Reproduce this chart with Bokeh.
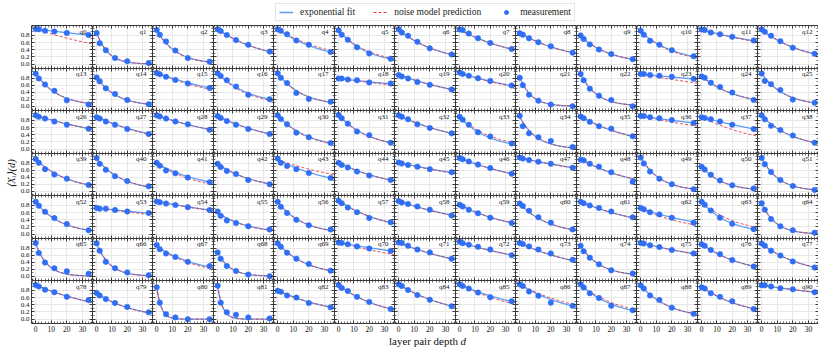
import numpy as np
from bokeh.plotting import figure
from bokeh.layouts import gridplot, column, row
from bokeh.models import (ColumnDataSource, Range1d, FixedTicker, LinearAxis, Grid, Label,
                          Legend, LegendItem, Whisker, TeeHead, PrintfTickFormatter,
                          CustomJSTickFormatter)
from bokeh.embed import file_html
from bokeh.resources import INLINE

# ---------------- data ----------------
depths = [0, 2, 6, 12, 20, 34]
meas_err = [0.02, 0.02, 0.02, 0.02, 0.02, 0.02]
x_ticks = [0, 10, 20, 30]
y_ticks = [0.0, 0.2, 0.4, 0.6, 0.8]
qubit_labels = ["q%d" % k for k in range(91)]
legend_labels = ["exponential fit", "noise model prediction", "measurement"]
x_title = "layer pair depth"
x_title_var = "d"
y_title = "\u27e8X\u1d62\u27e9(d)"

meas_row1 = [
    [0.98, 0.97, 0.93, 0.91, 0.87, 0.81], [0.87, 0.58, 0.39, 0.17, 0.08, 0.03],
    [0.95, 0.82, 0.63, 0.38, 0.17, 0.07], [0.97, 0.92, 0.81, 0.67, 0.54, 0.35],
    [0.97, 0.93, 0.83, 0.66, 0.54, 0.34], [0.94, 0.82, 0.68, 0.47, 0.30, 0.15],
    [0.97, 0.88, 0.79, 0.62, 0.44, 0.27], [0.965, 0.95, 0.85, 0.72, 0.59, 0.42],
    [0.86, 0.82, 0.72, 0.61, 0.50, 0.32], [0.80, 0.70, 0.55, 0.41, 0.28, 0.14],
    [0.93, 0.82, 0.65, 0.54, 0.39, 0.22], [0.965, 0.95, 0.88, 0.83, 0.76, 0.66],
    [0.965, 0.90, 0.79, 0.64, 0.46, 0.29]]
meas_row2 = [
    [0.93, 0.79, 0.62, 0.44, 0.17, 0.05], [0.82, 0.71, 0.51, 0.35, 0.18, 0.06],
    [0.95, 0.91, 0.84, 0.75, 0.65, 0.52], [0.94, 0.86, 0.74, 0.56, 0.33, 0.20],
    [0.94, 0.81, 0.66, 0.38, 0.21, 0.13], [0.79, 0.79, 0.76, 0.74, 0.68, 0.65],
    [0.89, 0.85, 0.79, 0.69, 0.61, 0.48], [0.96, 0.92, 0.87, 0.80, 0.72, 0.59],
    [0.81, 0.60, 0.33, 0.16, 0.05, 0.00], [0.92, 0.74, 0.50, 0.30, 0.18, 0.00],
    [0.92, 0.92, 0.89, 0.87, 0.84, 0.78], [0.85, 0.81, 0.67, 0.55, 0.39, 0.18],
    [0.93, 0.72, 0.63, 0.46, 0.19, 0.10]]
meas_row3 = [
    [0.94, 0.90, 0.85, 0.77, 0.68, 0.57], [0.89, 0.85, 0.77, 0.68, 0.56, 0.42],
    [0.94, 0.91, 0.85, 0.77, 0.69, 0.54], [0.92, 0.87, 0.78, 0.68, 0.56, 0.42],
    [0.94, 0.84, 0.69, 0.46, 0.33, 0.17], [0.95, 0.86, 0.71, 0.49, 0.39, 0.18],
    [0.94, 0.90, 0.83, 0.69, 0.59, 0.44], [0.90, 0.82, 0.68, 0.47, 0.35, 0.16],
    [0.93, 0.64, 0.44, 0.33, 0.23, 0.06], [0.91, 0.86, 0.76, 0.64, 0.57, 0.36],
    [0.92, 0.92, 0.89, 0.86, 0.81, 0.73], [0.89, 0.87, 0.83, 0.77, 0.68, 0.56],
    [0.94, 0.83, 0.65, 0.53, 0.38, 0.18]]
meas_row4 = [
    [0.92, 0.81, 0.63, 0.48, 0.36, 0.18], [0.95, 0.78, 0.61, 0.43, 0.29, 0.14],
    [0.81, 0.73, 0.59, 0.51, 0.39, 0.26], [0.78, 0.69, 0.58, 0.49, 0.32, 0.20],
    [0.93, 0.81, 0.72, 0.63, 0.52, 0.38], [0.81, 0.75, 0.68, 0.56, 0.45, 0.32],
    [0.82, 0.79, 0.75, 0.70, 0.63, 0.54], [0.95, 0.91, 0.85, 0.76, 0.66, 0.50],
    [0.96, 0.93, 0.89, 0.84, 0.78, 0.67], [0.90, 0.88, 0.78, 0.70, 0.54, 0.27],
    [0.96, 0.79, 0.56, 0.36, 0.20, 0.06], [0.70, 0.62, 0.47, 0.31, 0.17, 0.08],
    [0.95, 0.77, 0.55, 0.32, 0.15, 0.04]]
meas_row5 = [
    [0.90, 0.79, 0.62, 0.45, 0.28, 0.11], [0.73, 0.71, 0.71, 0.67, 0.63, 0.59],
    [0.91, 0.89, 0.85, 0.81, 0.75, 0.67], [0.63, 0.51, 0.38, 0.31, 0.22, 0.13],
    [0.90, 0.76, 0.59, 0.40, 0.25, 0.13], [0.93, 0.86, 0.74, 0.61, 0.45, 0.33],
    [0.92, 0.88, 0.84, 0.77, 0.68, 0.52], [0.82, 0.77, 0.68, 0.58, 0.46, 0.31],
    [0.85, 0.78, 0.65, 0.47, 0.32, 0.13], [0.90, 0.86, 0.80, 0.73, 0.63, 0.47],
    [0.73, 0.69, 0.61, 0.55, 0.46, 0.32], [0.90, 0.82, 0.66, 0.46, 0.29, 0.14],
    [0.86, 0.68, 0.42, 0.22, 0.11, 0.04]]
meas_row6 = [
    [0.95, 0.66, 0.39, 0.23, 0.14, 0.07], [0.94, 0.73, 0.41, 0.23, 0.11, 0.03],
    [0.89, 0.77, 0.65, 0.55, 0.41, 0.29], [0.68, 0.50, 0.29, 0.15, 0.05, 0.00],
    [0.94, 0.84, 0.67, 0.50, 0.35, 0.16], [0.96, 0.95, 0.91, 0.85, 0.79, 0.72],
    [0.96, 0.95, 0.87, 0.76, 0.68, 0.50], [0.98, 0.94, 0.90, 0.84, 0.76, 0.60],
    [0.95, 0.92, 0.85, 0.76, 0.65, 0.47], [0.87, 0.71, 0.53, 0.34, 0.17, 0.08],
    [0.95, 0.93, 0.88, 0.83, 0.75, 0.65], [0.91, 0.87, 0.75, 0.63, 0.46, 0.28],
    [0.93, 0.87, 0.73, 0.59, 0.42, 0.25]]
meas_row7 = [
    [0.95, 0.91, 0.82, 0.75, 0.62, 0.53], [0.73, 0.66, 0.56, 0.45, 0.34, 0.19],
    [0.89, 0.46, 0.14, 0.05, 0.00, 0.00], [0.93, 0.46, 0.19, 0.12, 0.05, 0.02],
    [0.79, 0.76, 0.66, 0.60, 0.45, 0.33], [0.95, 0.87, 0.78, 0.62, 0.48, 0.28],
    [0.97, 0.92, 0.81, 0.67, 0.54, 0.36], [0.97, 0.92, 0.85, 0.74, 0.61, 0.50],
    [0.97, 0.92, 0.77, 0.65, 0.46, 0.37], [0.97, 0.88, 0.72, 0.59, 0.37, 0.25],
    [0.94, 0.85, 0.66, 0.53, 0.32, 0.15], [0.89, 0.85, 0.72, 0.62, 0.50, 0.28],
    [0.94, 0.94, 0.91, 0.86, 0.83, 0.75]]
meas_rows = [meas_row1, meas_row2, meas_row3, meas_row4, meas_row5, meas_row6, meas_row7]

# exponential fit amplitude / decay depth, and decay depth of noise-model prediction
fit_amp = [0.98, 0.88, 0.95, 0.97, 0.97, 0.94, 0.96, 0.96, 0.87, 0.78, 0.90, 0.95, 0.96,
           0.95, 0.83, 0.95, 0.94, 0.94, 0.79, 0.90, 0.95, 0.83, 0.92, 0.92, 0.86, 0.93,
           0.94, 0.90, 0.94, 0.92, 0.94, 0.95, 0.94, 0.90, 0.90, 0.91, 0.92, 0.90, 0.93,
           0.92, 0.93, 0.80, 0.78, 0.90, 0.82, 0.82, 0.95, 0.95, 0.92, 0.96, 0.70, 0.95,
           0.90, 0.73, 0.91, 0.60, 0.90, 0.93, 0.92, 0.82, 0.86, 0.90, 0.72, 0.90, 0.86,
           0.93, 0.94, 0.85, 0.68, 0.94, 0.96, 0.96, 0.97, 0.95, 0.87, 0.95, 0.92, 0.93,
           0.95, 0.73, 0.89, 0.93, 0.80, 0.95, 0.97, 0.97, 0.97, 0.95, 0.94, 0.90, 0.94]
fit_tau = [177, 7.5, 12.5, 33, 32, 18.5, 26.6, 41, 34, 19.5, 23.6, 89, 28,
           14, 13, 57, 22, 16, 160, 54, 70, 7.5, 10.5, 200, 23, 15,
           69, 46, 63, 44, 20, 20.5, 45, 19, 11, 36.5, 147, 73, 21,
           21, 17, 31, 26, 39, 36, 80, 53, 100, 36, 12.7, 14, 11,
           16.2, 150, 112, 21, 16, 32, 62, 36, 18, 50, 46, 18.3, 9,
           7.5, 8.5, 29, 8, 19.2, 120, 52, 72, 45, 12.8, 87, 29, 26.5,
           51, 24.7, 3, 3.3, 39, 28.5, 35, 50, 35, 24.6, 18.9, 30, 150]
pred_tau = [66, 7.5, 12, 33, 36, 20, 26.6, 41, 34, 19.5, 22, 85, 28,
            14, 13, 50, 20, 16, 130, 54, 66, 7.5, 10.5, 108, 23, 15,
            69, 44, 63, 44, 19, 20.5, 45, 22, 11, 36.5, 100, 40, 21,
            21, 17, 26, 26, 56, 36, 75, 53, 95, 36, 12.7, 14, 11,
            16.2, 120, 105, 20, 16, 32, 60, 36, 18, 50, 34, 23, 9,
            7.5, 8.5, 26, 8, 19.2, 82, 52, 72, 45, 12.8, 87, 29, 26.5,
            51, 24, 3, 3.3, 39, 28.5, 35, 43, 40, 28, 18.9, 30, 150]

# ---------------- style ----------------
FONT = "serif"
AX = "#3a3a3a"
FIT_C = "#5b9cf6"
PRED_C = "#e5323b"
MEAS_C = "#2f6ff5"
GRID_C = "#e2e2e2"
NCOL, NROW = 13, 7
col_w = [61 if j % 2 == 0 else 60 for j in range(NCOL)]
row_h = [43 if i % 2 == 0 else 42 for i in range(NROW)]
LEFT_B = 14
BOTTOM_B = 11
YLAB_W = 17
LEG_H = 25
XLAB_H = 14
Y_LO, Y_HI = -0.12, 1.075

d_fine = np.linspace(0, 37, 90)
xt = FixedTicker(ticks=x_ticks, minor_ticks=list(range(-2, 37, 2)))
yt = FixedTicker(ticks=y_ticks, minor_ticks=[round(-0.1 + 0.1 * k, 2) for k in range(12)])
blank_fmt = CustomJSTickFormatter(code="return ''")


def make_axis(ticker, labels, fmt=None, size="7.5px"):
    return LinearAxis(ticker=ticker, axis_line_color=AX, axis_line_width=1.0,
                      major_tick_in=3, major_tick_out=0, minor_tick_in=2, minor_tick_out=0,
                      major_tick_line_color=AX, minor_tick_line_color=AX,
                      minor_tick_line_width=0.7,
                      major_label_standoff=2 if labels else 0,
                      major_label_text_font=FONT,
                      major_label_text_font_size=size if labels else "0px",
                      major_label_text_color="#111111",
                      formatter=fmt if labels else blank_fmt)


panels = []
for i in range(NROW):
    prow = []
    for j in range(NCOL):
        k = i * NCOL + j
        p = figure(frame_width=col_w[j], frame_height=row_h[i],
                   x_range=Range1d(-2.7, 36.5), y_range=Range1d(Y_LO, Y_HI),
                   x_axis_type=None, y_axis_type=None,
                   output_backend="svg", toolbar_location=None,
                   min_border_left=LEFT_B if j == 0 else 0, min_border_right=0,
                   min_border_top=0, min_border_bottom=BOTTOM_B if i == NROW - 1 else 0,
                   outline_line_color=None, background_fill_color="white",
                   border_fill_color="white")
        p.add_layout(Grid(dimension=0, ticker=xt, grid_line_color=GRID_C, grid_line_width=0.8))
        p.add_layout(Grid(dimension=1, ticker=yt, grid_line_color=GRID_C, grid_line_width=0.8))
        p.add_layout(make_axis(yt, j == 0, PrintfTickFormatter(format="%.1f"), "7px"), "left")
        p.add_layout(make_axis(yt, False), "right")
        p.add_layout(make_axis(xt, i == NROW - 1, PrintfTickFormatter(format="%d")), "below")
        p.add_layout(make_axis(xt, False), "above")

        amp, tau, ptau = fit_amp[k], fit_tau[k], pred_tau[k]
        p.line(d_fine, amp * np.exp(-d_fine / tau), line_color=FIT_C, line_width=1.3)
        p.line(d_fine, amp * np.exp(-d_fine / ptau), line_color=PRED_C, line_width=1.0,
               line_dash="3 2")
        vals = meas_rows[i][j]
        src = ColumnDataSource(dict(d=depths, v=vals,
                                    lo=[v - e for v, e in zip(vals, meas_err)],
                                    hi=[v + e for v, e in zip(vals, meas_err)]))
        p.add_layout(Whisker(source=src, base="d", lower="lo", upper="hi",
                             line_color=MEAS_C, line_width=1,
                             upper_head=TeeHead(size=3, line_color=MEAS_C),
                             lower_head=TeeHead(size=3, line_color=MEAS_C)))
        p.scatter("d", "v", source=src, size=5.5, fill_color=MEAS_C, line_color=MEAS_C,
                  line_width=0.5)
        p.add_layout(Label(x=32.6, y=0.905, text=qubit_labels[k], text_align="right",
                           text_baseline="middle", text_font=FONT, text_font_size="7px",
                           text_color="#111111"))
        prow.append(p)
    panels.append(prow)

grid = gridplot(panels, toolbar_location=None)

grid_h = sum(row_h) + BOTTOM_B
grid_w = sum(col_w) + LEFT_B
total_w = YLAB_W + grid_w

# y title
yl = figure(width=YLAB_W, height=grid_h, x_range=Range1d(0, YLAB_W), y_range=Range1d(0, grid_h),
            x_axis_type=None, y_axis_type=None, output_backend="svg", toolbar_location=None,
            min_border=0, outline_line_color=None)
yl.grid.visible = False
yl.add_layout(Label(x=10.5, y=grid_h - 148, text=y_title, angle=np.pi / 2, text_align="center",
                    text_baseline="middle", text_font=FONT, text_font_size="10.5px",
                    text_font_style="italic", text_color="#111111"))

# x title (separate strip below the grid)
xl = figure(width=total_w, height=XLAB_H, x_range=Range1d(0, total_w), y_range=Range1d(0, XLAB_H),
            x_axis_type=None, y_axis_type=None, output_backend="svg", toolbar_location=None,
            min_border=0, outline_line_color=None)
xl.grid.visible = False
xc = YLAB_W + LEFT_B + sum(col_w) / 2.0
xl.add_layout(Label(x=xc + 33, y=8, text=x_title, text_align="right",
                    text_baseline="middle", text_font=FONT, text_font_size="11px",
                    text_color="#111111"))
xl.add_layout(Label(x=xc + 35.5, y=8, text=x_title_var, text_align="left",
                    text_baseline="middle", text_font=FONT, text_font_size="11px",
                    text_font_style="italic", text_color="#111111"))

# legend
lf = figure(width=total_w, height=LEG_H, x_range=Range1d(0, 1), y_range=Range1d(0, 1),
            x_axis_type=None, y_axis_type=None, output_backend="svg", toolbar_location=None,
            min_border=0, outline_line_color=None)
lf.grid.visible = False
r1 = lf.line([5, 6], [5, 6], line_color=FIT_C, line_width=1.5)
r2 = lf.line([5, 6], [5, 6], line_color=PRED_C, line_width=1.2, line_dash="3 2")
r3 = lf.scatter([5], [5], size=5.5, fill_color=MEAS_C, line_color=MEAS_C)
legend = Legend(items=[LegendItem(label=legend_labels[0], renderers=[r1]),
                       LegendItem(label=legend_labels[1], renderers=[r2]),
                       LegendItem(label=legend_labels[2], renderers=[r3])],
                orientation="horizontal", location=(275, 4),
                label_text_font=FONT, label_text_font_size="9.5px", label_text_color="#222222",
                glyph_width=14, glyph_height=10, label_height=10, label_standoff=7,
                spacing=18, padding=3, margin=0,
                border_line_color="#cccccc", border_line_width=1,
                background_fill_color="white")
lf.add_layout(legend, "center")

layout = column(lf, row(yl, grid), xl)
open("out.html", "w").write(file_html(layout, INLINE))
